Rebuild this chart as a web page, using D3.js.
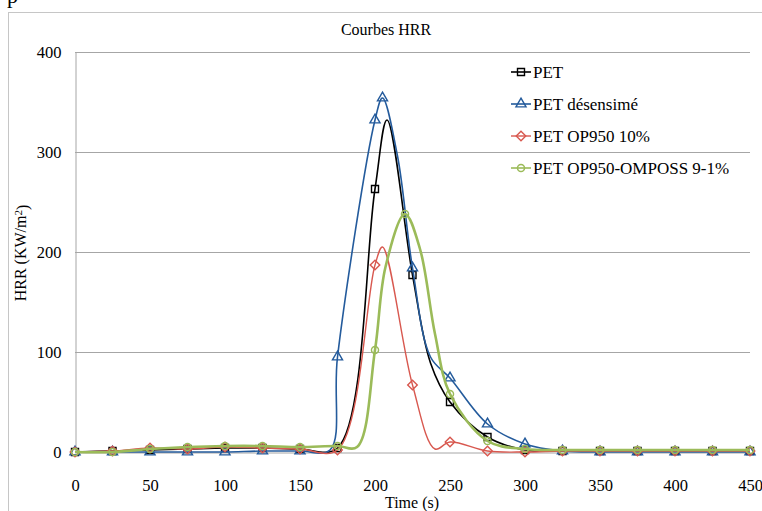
<!DOCTYPE html>
<html>
<head>
<meta charset="utf-8">
<script src="https://cdnjs.cloudflare.com/ajax/libs/d3/7.8.5/d3.min.js"></script>
<style>
    body { margin: 0; background: #fff; }
    svg { display: block; }
    svg text { font-family: "Liberation Serif", "Times New Roman", Tinos, "DejaVu Serif", serif; fill: #000; }
</style>
</head>
<body>
<svg></svg>
<script>
// HRR curves, values (time in s, HRR in kW/m2)
const petTime = [0, 25, 50, 75, 100, 125, 150, 175, 200, 208, 225, 237, 250, 275, 300, 325, 350, 375, 400, 425, 450];
const petHrr = [0, 1, 2, 3, 4, 4, 3, 4, 263, 332, 177, 89, 50, 15, 2, 1, 1, 1, 1, 1, 1];

const desTime = [0, 25, 50, 75, 100, 125, 150, 170, 175, 200, 205, 215, 225, 237, 250, 275, 300, 325, 350, 375, 400, 425, 450];
const desHrr = [0, 0, 0, 0, 0, 1, 1, 2, 95, 332, 354, 296, 184, 95, 74, 28, 8, 1, 0, 0, 0, 0, 0];

const op950Time = [0, 25, 50, 75, 100, 125, 150, 175, 200, 205, 225, 240, 250, 275, 300, 325, 350, 375, 400, 425, 450];
const op950Hrr = [0, 1, 4, 3, 5, 4, 3, 2, 187, 205, 67, 3, 10, 1, 0, 1, 1, 1, 1, 1, 1];

const ompossTime = [0, 25, 50, 75, 100, 125, 150, 175, 188, 200, 207, 220, 230, 240, 250, 275, 300, 325, 350, 375, 400, 425, 450];
const ompossHrr = [0, 0, 3, 5, 6, 6, 5, 6, 5, 102, 185, 238, 203, 118, 58, 11, 3, 2, 2, 2, 2, 2, 2];

// points that carry a marker besides the 25 s ones
const desExtraMarks = [205];
const ompossExtraMarks = [220];

const seriesNames = ['PET', 'PET désensimé', 'PET OP950 10%', 'PET OP950-OMPOSS 9-1%'];
const xTicks = [0, 50, 100, 150, 200, 250, 300, 350, 400, 450];
const yTicks = [0, 100, 200, 300, 400];

(() => {
    const serif = '"Liberation Serif", "Times New Roman", Tinos, "DejaVu Serif", serif';

    const svg = d3.select('svg')
        .attr('width', 762)
        .attr('height', 511);

    // outer chart frame (right/bottom edges fall outside the picture)
    svg.append('rect')
        .attr('x', 8.5).attr('y', 12.5)
        .attr('width', 780).attr('height', 520)
        .attr('fill', 'none')
        .attr('stroke', '#c6c6c6');

    // tail of the document text above the chart
    svg.append('text')
        .attr('x', 7).attr('y', 3)
        .attr('font-family', serif)
        .style('font-size', '22px')
        .text('p');

    const x = d3.scaleLinear().domain([0, 450]).range([75, 750]);
    const y = d3.scaleLinear().domain([0, 400]).range([452, 52]);

    // gridlines
    svg.append('g')
        .selectAll('line')
        .data(yTicks.slice(1))
        .enter().append('line')
        .attr('x1', x(0)).attr('x2', x(450))
        .attr('y1', d => y(d) + 0.5).attr('y2', d => y(d) + 0.5)
        .attr('stroke', '#a6a6a6');

    const xAxis = svg.append('g')
        .attr('transform', `translate(0, ${y(0) + 0.5})`)
        .call(d3.axisBottom(x).tickValues(xTicks).tickSize(0).tickPadding(27));
    xAxis.select('.domain').attr('stroke', '#a6a6a6');

    const yAxis = svg.append('g')
        .attr('transform', `translate(${x(0) + 0.5}, 0)`)
        .call(d3.axisLeft(y).tickValues(yTicks).tickSize(0).tickPadding(14));
    yAxis.select('.domain').attr('stroke', '#a6a6a6');

    svg.selectAll('g').attr('font-family', serif);
    svg.selectAll('.tick text')
        .style('font-size', '16.5px')
        .attr('fill', '#000');
    yAxis.selectAll('.tick text').attr('dy', '0.35em');

    svg.append('text')
        .attr('x', 386).attr('y', 35)
        .attr('text-anchor', 'middle')
        .style('font-size', '16px')
        .text('Courbes HRR');

    svg.append('text')
        .attr('x', 412).attr('y', 508)
        .attr('text-anchor', 'middle')
        .style('font-size', '16px')
        .text('Time (s)');

    const yLabel = svg.append('text')
        .attr('transform', 'translate(26, 253) rotate(-90)')
        .attr('text-anchor', 'middle')
        .style('font-size', '16px');
    yLabel.append('tspan').text('HRR (KW/m');
    yLabel.append('tspan').attr('dy', '-0.4em').style('font-size', '11px').text('2');
    yLabel.append('tspan').attr('dy', '0.4em').text(')');

    const markerPath = {
        square: d3.symbol().type(d3.symbolSquare).size(49)(),
        triangle: d3.symbol().type(d3.symbolTriangle).size(44)(),
        diamond: d3.symbol().type(d3.symbolSquare).size(46)(),
        circle: d3.symbol().type(d3.symbolCircle).size(40)()
    };

    const series = [
        { name: seriesNames[0], time: petTime, hrr: petHrr, extra: [], color: '#000000', width: 1.6, marker: 'square' },
        { name: seriesNames[1], time: desTime, hrr: desHrr, extra: desExtraMarks, color: '#245B9C', width: 1.6, marker: 'triangle' },
        { name: seriesNames[2], time: op950Time, hrr: op950Hrr, extra: [], color: '#D8584F', width: 1.4, marker: 'diamond' },
        { name: seriesNames[3], time: ompossTime, hrr: ompossHrr, extra: ompossExtraMarks, color: '#9BBB59', width: 2.6, marker: 'circle' }
    ];

    const line = d3.line()
        .x(d => x(d[0]))
        .y(d => y(d[1]))
        .curve(d3.curveCatmullRom.alpha(0.5));

    const chart = svg.append('g');

    series.forEach(s => {
        const pts = s.time.map((t, i) => [t, s.hrr[i]]);
        const g = chart.append('g');
        g.append('path')
            .datum(pts)
            .attr('d', line)
            .attr('fill', 'none')
            .attr('stroke', s.color)
            .attr('stroke-width', s.width)
            .attr('stroke-linejoin', 'round');

        g.selectAll('path.mark')
            .data(pts.filter(p => p[0] % 25 === 0 || s.extra.includes(p[0])))
            .enter().append('path')
            .attr('class', 'mark')
            .attr('d', markerPath[s.marker])
            .attr('transform', d => `translate(${x(d[0])}, ${y(d[1])})` + (s.marker === 'diamond' ? ' rotate(45)' : ''))
            .attr('fill', 'none')
            .attr('stroke', s.color)
            .attr('stroke-width', 1.4);
    });

    // legend
    const legend = svg.append('g')
        .attr('font-family', serif)
        .selectAll('g')
        .data(series)
        .enter().append('g')
        .attr('transform', (d, i) => `translate(511, ${72 + i * 32})`);

    legend.append('line')
        .attr('x1', 0).attr('x2', 20)
        .attr('stroke', d => d.color)
        .attr('stroke-width', d => Math.min(d.width, 1.6));

    legend.append('path')
        .attr('d', d => markerPath[d.marker])
        .attr('transform', d => 'translate(10, 0)' + (d.marker === 'diamond' ? ' rotate(45)' : ''))
        .attr('fill', 'none')
        .attr('stroke', d => d.color)
        .attr('stroke-width', 1.4);

    legend.append('text')
        .attr('x', 22)
        .attr('y', 6)
        .style('font-size', '17px')
        .text(d => d.name);
})()
</script>
</body>
</html>
